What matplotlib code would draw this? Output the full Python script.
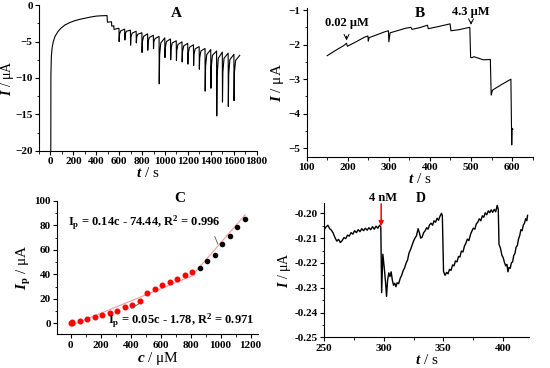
import matplotlib
matplotlib.use('Agg')
import matplotlib.pyplot as plt
from matplotlib.ticker import MultipleLocator

plt.rcParams['font.family'] = ['Liberation Serif', 'DejaVu Serif']
plt.rcParams['font.weight'] = 'bold'
plt.rcParams['mathtext.fontset'] = 'custom'
plt.rcParams['mathtext.rm'] = 'Liberation Serif:bold'
plt.rcParams['mathtext.it'] = 'Liberation Serif:bold:italic'
plt.rcParams['mathtext.bf'] = 'Liberation Serif:bold'

# ---- panel A: long amperometric run ----
a_start_t = [3, 3.5, 4, 8, 15, 25, 40, 65, 90, 125, 170, 212, 260, 300, 350, 400, 450, 494]
a_start_i = [-21, -12, -9.5, -7.0, -5.8, -5.0, -4.3, -3.65, -3.2, -2.75, -2.4, -2.15, -1.95, -1.82, -1.65, -1.52, -1.47, -1.45]
a_step_t = [497, 533, 535, 553, 555, 590]
a_step_i = [-2.35, -2.3, -2.9, -2.85, -3.35, -3.2]
spk_t = [598, 648, 698, 748, 798, 848, 898, 948, 998, 1048, 1098,
         1148, 1198, 1248, 1298, 1349, 1399, 1450, 1500, 1551, 1601]
spk_top = [-3.2, -3.3, -3.45, -3.6, -3.8, -3.95, -4.15, -4.3, -4.5, -4.65, -4.9,
           -5.05, -5.25, -5.45, -5.7, -5.95, -6.1, -6.3, -6.45, -6.6, -6.75]
spk_min = [-5.0, -4.8, -5.5, -5.2, -6.5, -6.2, -6.0, -10.8, -7.2, -7.5, -7.6,
           -7.8, -8.1, -8.3, -8.8, -11.8, -11.4, -15.2, -13.3, -13.9, -13.1]
spk_r5 = [-4.0, -3.95, -4.4, -4.35, -5.0, -5.0, -5.0, -6.8, -5.8, -6.0, -6.2,
          -6.4, -6.6, -6.8, -7.2, -8.4, -8.4, -9.6, -9.2, -9.4, -9.2]
spk_r15 = [-3.55, -3.6, -3.85, -4.0, -4.3, -4.45, -4.6, -5.2, -5.0, -5.2, -5.4,
           -5.6, -5.8, -6.0, -6.3, -6.8, -6.9, -7.3, -7.3, -7.5, -7.6]
a_end_t = 1652
a_end_i = -6.9

# ---- panel B: low concentration steps ----
b_t = [150, 170, 190, 197, 199, 202, 220, 240, 249, 250, 252, 270, 290, 299, 300, 303,
       320, 340, 354, 356, 375, 394, 396, 420, 449, 451, 470, 497, 499, 502, 507,
       530, 547, 549, 552, 557, 575, 597, 599, 600, 602]
b_i = [-2.32, -2.17, -2.03, -1.96, -2.05, -2.03, -1.92, -1.79, -1.75, -1.9, -1.8, -1.72,
       -1.63, -1.6, -1.92, -1.66, -1.6, -1.53, -1.5, -1.56, -1.51, -1.44, -1.54, -1.48,
       -1.4, -1.6, -1.57, -1.5, -2.37, -2.38, -2.35, -2.44, -2.43, -3.46, -3.32, -3.28,
       -3.15, -3.0, -4.9, -4.42, -4.45]

# ---- panel C: calibration ----
c_red = [2, 6, 10, 60, 110, 160, 210, 260, 310, 360, 410, 460, 510, 560, 610, 660, 710, 760, 810]
i_red = [0.3, 0.7, 1.0, 1.9, 3.2, 5.1, 6.8, 8.4, 10.3, 13.0, 15.2, 18.2, 24.7, 27.7,
         30.9, 33.6, 35.8, 39.1, 41.7]
c_blk = [860, 910, 960, 1010, 1060, 1110, 1160]
i_blk = [45.0, 50.7, 56.1, 65.1, 71.6, 78.8, 85.0]
fit_low = (0.05, -1.78)
fit_high = (0.14, -74.44)

# ---- panel D: 4 nM response ----
d_t = [250, 251.5, 253, 254.5, 256, 257.5, 259, 260.5, 262, 263.5, 265, 266.5, 268, 269.5,
       271, 272.5, 274, 275.5, 277, 278.5, 280, 281.5, 283, 284.5, 286, 287.5, 289, 290.5,
       292, 293.5, 295, 296.5, 297.5, 298.2, 299.2, 300.4, 301.5, 302.3, 303.2, 304.2,
       305.2, 306.2, 307.2, 308.2, 309.2, 310.2, 311.2, 312.5, 313.8, 315, 316.2, 317.5,
       318.8, 320, 321.2, 322.5, 323.8, 325, 326.2, 327.5, 328.8, 330, 331, 332.2, 333.5,
       334.8, 336, 337.2, 338.5, 339.8, 341, 342.2, 343.5, 344.8, 346, 347.2, 348.5, 349.2,
       350.2, 351.5, 352.8, 354, 355.2, 356.5, 357.8, 359, 360.2, 361.5, 362.8, 364, 365.2,
       366.5, 367.8, 369, 370.2, 371.5, 372.8, 374, 375.2, 376.5, 377.8, 379, 380.2, 381.5,
       382.8, 384, 385.2, 386.5, 387.8, 389, 390.2, 391.5, 392.8, 394, 395.3, 396.2, 396.8,
       398, 399.2, 400.4, 401.5, 402.5, 403.5, 404.3, 405.2, 406.2, 407.2, 408.2, 409.2,
       410.2, 411.2, 412.2, 413.2, 414.2, 415.2, 416.2, 417.2, 418.2, 419.2, 420.2, 420.8]
d_i = [-0.2065, -0.2055, -0.2048, -0.2062, -0.2068, -0.2080, -0.2098, -0.2112, -0.2105,
       -0.2118, -0.2110, -0.2098, -0.2102, -0.2088, -0.2092, -0.2078, -0.2084, -0.2070,
       -0.2078, -0.2066, -0.2074, -0.2062, -0.2070, -0.2060, -0.2068, -0.2058, -0.2066,
       -0.2054, -0.2064, -0.2052, -0.2060, -0.2048, -0.2055, -0.2320, -0.2165, -0.2220,
       -0.2280, -0.2335, -0.2270, -0.2240, -0.2255, -0.2236, -0.2270, -0.2290, -0.2282,
       -0.2296, -0.2280, -0.2284, -0.2262, -0.2250, -0.2232, -0.2220, -0.2200, -0.2188,
       -0.2160, -0.2146, -0.2128, -0.2112, -0.2100, -0.2090, -0.2062, -0.2080, -0.2100,
       -0.2096, -0.2078, -0.2070, -0.2058, -0.2064, -0.2046, -0.2040, -0.2048, -0.2030,
       -0.2036, -0.2020, -0.2028, -0.2012, -0.2000, -0.2010, -0.2235, -0.2250, -0.2238,
       -0.2244, -0.2226, -0.2230, -0.2208, -0.2212, -0.2192, -0.2196, -0.2174, -0.2176,
       -0.2152, -0.2156, -0.2132, -0.2120, -0.2104, -0.2110, -0.2086, -0.2072, -0.2060,
       -0.2064, -0.2042, -0.2036, -0.2022, -0.2030, -0.2010, -0.2016, -0.1998, -0.2006,
       -0.1990, -0.1998, -0.1986, -0.1996, -0.1984, -0.1994, -0.1968, -0.1985, -0.2125,
       -0.2140, -0.2168, -0.2180, -0.2200, -0.2212, -0.2206, -0.2236, -0.2218, -0.2222,
       -0.2200, -0.2196, -0.2170, -0.2162, -0.2136, -0.2130, -0.2104, -0.2090, -0.2066,
       -0.2070, -0.2048, -0.2040, -0.2022, -0.2030, -0.2008]


def style(ax, xmaj, xmin, ymaj, ymin):
    ax.spines['top'].set_visible(False)
    ax.spines['right'].set_visible(False)
    ax.xaxis.set_major_locator(MultipleLocator(xmaj))
    ax.xaxis.set_minor_locator(MultipleLocator(xmin))
    ax.yaxis.set_major_locator(MultipleLocator(ymaj))
    ax.yaxis.set_minor_locator(MultipleLocator(ymin))
    ax.tick_params(which='major', length=3, width=0.8, labelsize=8, pad=1.5)
    ax.tick_params(which='minor', length=1.8, width=0.6)
    for lab in ax.get_xticklabels() + ax.get_yticklabels():
        lab.set_fontweight('bold')


fig = plt.figure(figsize=(5.5, 3.68), dpi=100)

# A
axA = fig.add_axes([0.0709, 0.5897, 0.3958, 0.3967])
at = list(a_start_t) + list(a_step_t)
ai = list(a_start_i) + list(a_step_i)
for k in range(len(spk_t)):
    t0 = spk_t[k]
    at += [t0, t0 + 1.5, t0 + 5, t0 + 15]
    ai += [spk_top[k], spk_min[k], spk_r5[k], spk_r15[k]]
    if k + 1 < len(spk_t):
        at.append(spk_t[k + 1] - 0.5)
        ai.append(spk_top[k + 1])
at.append(a_end_t)
ai.append(a_end_i)
axA.plot(at, ai, color='black', lw=0.8)
axA.set_xlim(-100, 1800)
axA.set_ylim(-20, 0)
style(axA, 200, 100, 5, 2.5)
axA.set_xlabel('$t$ / s', fontsize=11, labelpad=0)
axA.set_ylabel('$I$ / μA', fontsize=10)
axA.yaxis.set_label_coords(-0.105, 0.5)
axA.text(1100, -1.2, 'A', fontsize=11, ha='center', va='center')

# B
axB = fig.add_axes([0.5576, 0.5742, 0.4109, 0.4033])
axB.plot(b_t, b_i, color='black', lw=0.8)
axB.set_xlim(100, 650)
axB.set_ylim(-5.24, -0.95)
style(axB, 100, 50, 1, 0.5)
axB.set_xlabel('$t$ / s', fontsize=11, labelpad=0)
axB.set_ylabel('$I$ / μA', fontsize=11, labelpad=2)
axB.text(376, -1.1, 'B', fontsize=11, ha='center', va='center')
axB.annotate('0.02 μM', xy=(197, -1.88), xytext=(197, -1.38), fontsize=9,
             ha='center', va='center',
             arrowprops=dict(arrowstyle='->', lw=0.7, color='black', shrinkA=3, shrinkB=0))
axB.annotate('4.3 μM', xy=(500, -1.43), xytext=(500, -1.07), fontsize=9,
             ha='center', va='center',
             arrowprops=dict(arrowstyle='->', lw=0.7, color='black', shrinkA=3, shrinkB=0))

# C
axC = fig.add_axes([0.1042, 0.0913, 0.3649, 0.3633])
lx = [0, 810]
axC.plot(lx, [fit_low[0] * x + fit_low[1] for x in lx], color='#f39a9a', lw=0.8)
hx = [835, 1165]
axC.plot(hx, [fit_high[0] * x + fit_high[1] for x in hx], color='#f39a9a', lw=0.8)
axC.plot(c_red, i_red, 'o', color='red', ms=3.3, mec='red')
axC.plot(c_blk, i_blk, 'o', color='black', ms=3.0)
axC.set_xlim(-90, 1250)
axC.set_ylim(-9, 100)
style(axC, 200, 100, 20, 10)
axC.set_xlabel('$c$ / μM', fontsize=11, labelpad=0)
axC.set_ylabel(r'$I_\mathrm{p}$ / μA', fontsize=11, labelpad=1)
axC.text(730, 102, 'C', fontsize=11, ha='center', va='center', clip_on=False)
axC.annotate(r'I$_\mathrm{p}$ = 0.14c - 74.44, R$^\mathrm{2}$ = 0.996', xy=(982, 64.6),
             xytext=(-18, 81.7), fontsize=9, ha='left', va='center',
             arrowprops=dict(arrowstyle='-', lw=0.6, color='#555555',
                             relpos=(0.95, 0.0), shrinkA=1, shrinkB=0))
axC.annotate(r'I$_\mathrm{p}$ = 0.05c - 1.78, R$^\mathrm{2}$ = 0.971', xy=(462, 16.5),
             xytext=(249, 2.1), fontsize=9, ha='left', va='center',
             arrowprops=dict(arrowstyle='-', lw=0.6, color='#555555',
                             relpos=(0.12, 1.0), shrinkA=1, shrinkB=0))

# D
axD = fig.add_axes([0.5896, 0.0834, 0.3722, 0.3639])
axD.plot(d_t, d_i, color='black', lw=1.0)
axD.set_xlim(250, 422)
axD.set_ylim(-0.25, -0.196)
style(axD, 50, 25, 0.01, 0.005)
axD.yaxis.set_major_formatter(matplotlib.ticker.FormatStrFormatter('%.2f'))
axD.set_xlabel('$t$ / s', fontsize=11, labelpad=0)
axD.set_ylabel('$I$ / μA', fontsize=10, labelpad=1)
axD.annotate('', xy=(297.8, -0.2052), xytext=(297.8, -0.1962),
             arrowprops=dict(arrowstyle='-|>', lw=1.1, color='red',
                             mutation_scale=7, shrinkA=0, shrinkB=0), annotation_clip=False)
axD.text(299.5, -0.1939, '4 nM', fontsize=9, ha='center', va='center')
axD.text(331, -0.1939, 'D', fontsize=10, ha='center', va='center')

fig.savefig('out.png', dpi=100)
